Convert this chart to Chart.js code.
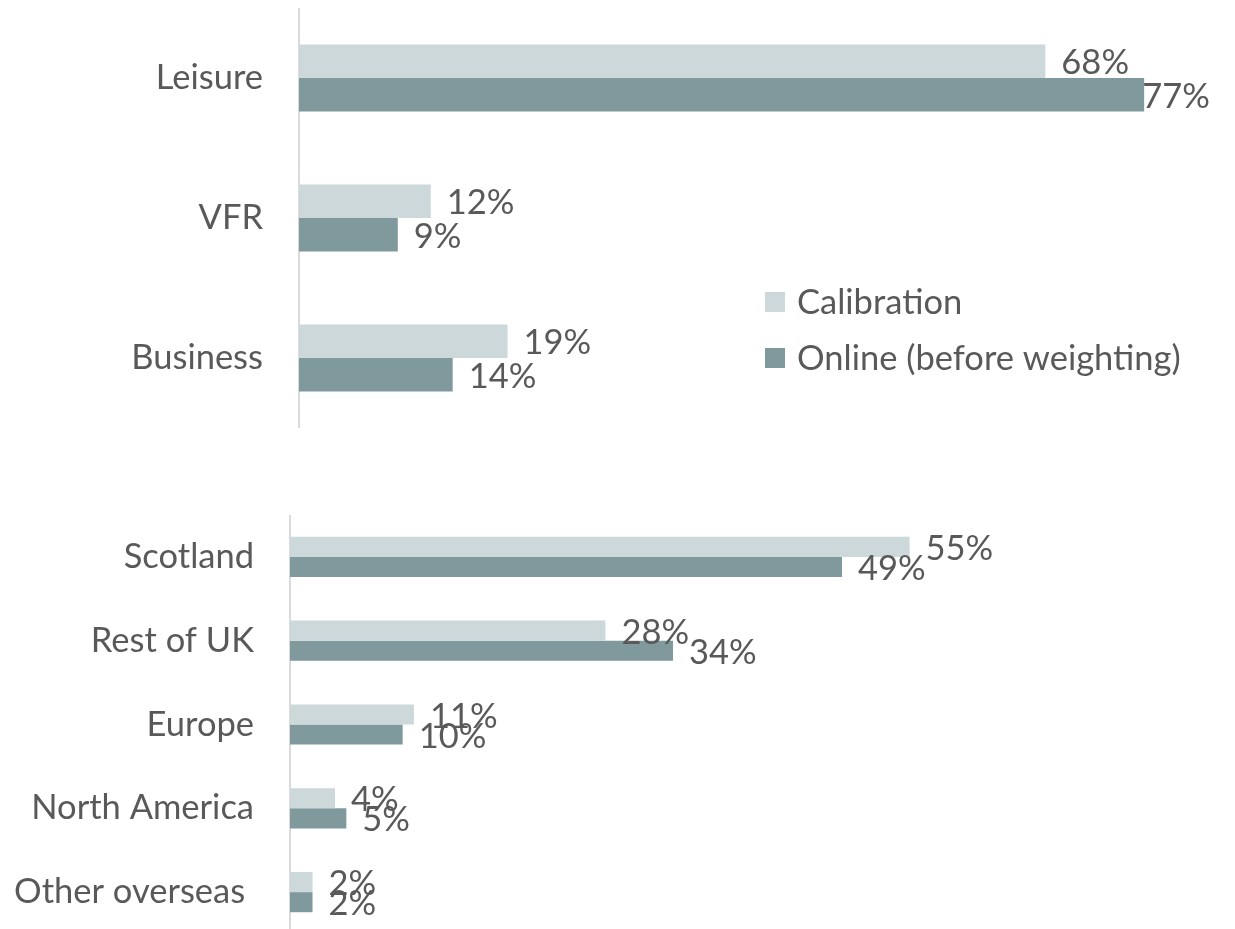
<!DOCTYPE html>
<html>
<head>
<meta charset="utf-8">
<script src="https://cdn.jsdelivr.net/npm/chart.js@4.4.0/dist/chart.umd.min.js"></script>
<style>
  html, body { margin: 0; padding: 0; background: #fff; overflow: hidden; width: 1235px; height: 929px; }
  canvas { position: absolute; left: 0; }
  #c1 { top: 8px; }
  #c2 { top: 515px; }
</style>
</head>
<body>
<canvas id="c1" width="1235" height="420"></canvas>
<canvas id="c2" width="1235" height="419"></canvas>
<script>
// ---- data ----
const seriesNames = ['Calibration', 'Online (before weighting)'];
const purposeCategories = ['Leisure', 'VFR', 'Business'];
const purposeCalibration = [68, 12, 19];
const purposeOnline = [77, 9, 14];
const originCategories = ['Scotland', 'Rest of UK', 'Europe', 'North America', 'Other overseas '];
const originCalibration = [55, 28, 11, 4, 2];
const originOnline = [49, 34, 10, 5, 2];

// ---- styles ----
const LIGHT = '#CCD8DA';
const DARK = '#7F999C';
const TEXT = '#595959';
const AXIS = '#D9D9DE';
const FONT_FAMILY = 'Lato, "Open Sans", sans-serif';
const FONT_SIZE = 34.5;

const valueLabels = {
  id: 'valueLabels',
  afterDatasetsDraw(chart) {
    const ctx = chart.ctx;
    ctx.save();
    ctx.font = FONT_SIZE + 'px ' + FONT_FAMILY;
    ctx.fillStyle = TEXT;
    ctx.textBaseline = 'middle';
    ctx.textAlign = 'left';
    chart.data.datasets.forEach((ds, di) => {
      const meta = chart.getDatasetMeta(di);
      meta.data.forEach((bar, i) => {
        const txt = ds.data[i] + '%';
        const w = ctx.measureText(txt).width;
        let x = bar.x + 16;
        if (x + w > chart.chartArea.right) x = chart.chartArea.right - w;
        ctx.fillText(txt, x, bar.y + 2);
      });
    });
    ctx.restore();
  }
};

const innerLegend = {
  id: 'innerLegend',
  afterDraw(chart, args, opts) {
    if (!opts || !opts.show) return;
    const ctx = chart.ctx;
    ctx.save();
    ctx.font = FONT_SIZE + 'px ' + FONT_FAMILY;
    ctx.textBaseline = 'middle';
    ctx.textAlign = 'left';
    chart.data.datasets.forEach((ds, di) => {
      const cy = opts.y + di * opts.gap;
      ctx.fillStyle = ds.backgroundColor;
      ctx.fillRect(opts.x, cy - 10, 20, 20);
      ctx.fillStyle = TEXT;
      ctx.fillText(ds.label, opts.x + 32, cy + 1);
    });
    ctx.restore();
  }
};

function makeChart(id, cats, calib, online, xmax, axisWidth, padRight, catPct, legend) {
  return new Chart(document.getElementById(id), {
    type: 'bar',
    data: {
      labels: cats,
      datasets: [
        { label: seriesNames[0], data: calib, backgroundColor: LIGHT, borderWidth: 0 },
        { label: seriesNames[1], data: online, backgroundColor: DARK, borderWidth: 0 }
      ]
    },
    options: {
      indexAxis: 'y',
      responsive: false,
      animation: false,
      layout: { padding: { left: 0, top: 0, bottom: 0, right: padRight } },
      datasets: { bar: { categoryPercentage: catPct, barPercentage: 1.0 } },
      plugins: {
        legend: { display: false },
        tooltip: { enabled: false },
        innerLegend: legend
      },
      scales: {
        x: { display: false, min: 0, max: xmax },
        y: {
          afterFit(s) {
            s.width = axisWidth;
            s.paddingTop = 0; s.paddingBottom = 0; s.paddingLeft = 0; s.paddingRight = 0;
          },
          grid: { display: false, drawTicks: false },
          border: { display: true, color: AXIS, width: 2 },
          ticks: { color: TEXT, padding: 36, font: { family: FONT_FAMILY, size: FONT_SIZE } }
        }
      }
    },
    plugins: [valueLabels, innerLegend]
  });
}

makeChart('c1', purposeCategories, purposeCalibration, purposeOnline, 83, 299, 25, 0.48,
  { show: true, x: 765, y: 302 - 8, gap: 56 });
makeChart('c2', originCategories, originCalibration, originOnline, 83, 290, 10, 0.48,
  { show: false });
</script>
</body>
</html>
